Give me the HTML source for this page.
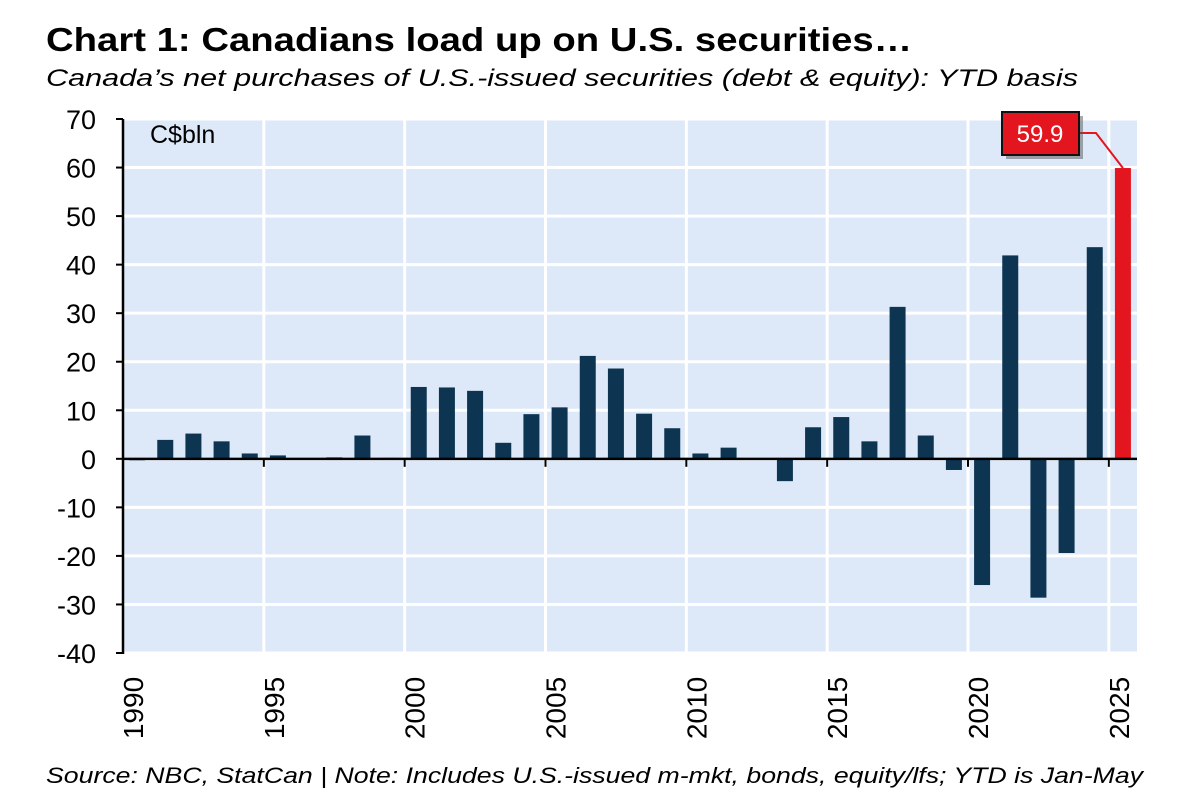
<!DOCTYPE html>
<html><head><meta charset="utf-8"><style>
body{margin:0;background:#fff;width:1200px;height:796px;overflow:hidden;font-family:"Liberation Sans",Arial,sans-serif}
svg{display:block}
</style></head><body>
<svg id="c" width="1200" height="796" xmlns="http://www.w3.org/2000/svg">
<text x="46" y="51" font-size="33" font-weight="bold" fill="#000" textLength="866" lengthAdjust="spacingAndGlyphs">Chart 1: Canadians load up on U.S. securities…</text>
<text x="46" y="86" font-size="24" font-style="italic" fill="#000" textLength="1032" lengthAdjust="spacingAndGlyphs">Canada’s net purchases of U.S.-issued securities (debt &amp; equity): YTD basis</text>
<text x="46" y="783" font-size="22" font-style="italic" fill="#000" textLength="1097" lengthAdjust="spacingAndGlyphs">Source: NBC, StatCan | Note: Includes U.S.-issued m-mkt, bonds, equity/lfs; YTD is Jan-May</text>
</svg>
<script>
const years=[1990,1991,1992,1993,1994,1995,1996,1997,1998,1999,2000,2001,2002,2003,2004,2005,2006,2007,2008,2009,2010,2011,2012,2013,2014,2015,2016,2017,2018,2019,2020,2021,2022,2023,2024,2025];
const values=[-0.3,3.9,5.2,3.6,1.1,0.7,0,0.3,4.8,0.2,14.8,14.7,14.0,3.3,9.2,10.6,21.2,18.6,9.3,6.3,1.1,2.3,-0.2,-4.6,6.5,8.6,3.6,31.3,4.8,-2.3,-26,41.9,-28.6,-19.4,43.6,59.9];
const yTicks=[70,60,50,40,30,20,10,0,-10,-20,-30,-40];
const xTickYears=[1990,1995,2000,2005,2010,2015,2020,2025];
const NS="http://www.w3.org/2000/svg",svg=document.getElementById('c');
const L=123,R=1137,T=119,B=653,yMin=-40,yMax=70;
const step=(R-L)/years.length;
const y=v=>B-(v-yMin)/(yMax-yMin)*(B-T);
const xL=yr=>L+(yr-years[0])*step;
function mk(t,a){const e=document.createElementNS(NS,t);for(const k in a)e.setAttribute(k,a[k]);svg.appendChild(e);return e;}
const bg=mk('rect',{x:L,y:T,width:R-L,height:B-T,fill:'#dde8f8'});


yTicks.forEach(v=>{
 const g=mk('line',{x1:L,x2:R,y1:y(v),y2:y(v),stroke:'#fff','stroke-width':3});
 
 
 const tk=mk('line',{x1:L-7,x2:L,y1:y(v),y2:y(v),stroke:'#000','stroke-width':2});
 
 
 const t=mk('text',{x:L-27,y:y(v)+10,'font-size':27,'text-anchor':'end',fill:'#000'});
 t.textContent=v;
 
 
});
xTickYears.forEach(yr=>{
 const x=xL(yr);
 if(yr!==years[0]){const g=mk('line',{x1:x,x2:x,y1:T,y2:B,stroke:'#fff','stroke-width':3});
 
 }
 const t=mk('text',{transform:`translate(${x+20},${B+55}) rotate(-90)`,'font-size':28,'text-anchor':'middle',fill:'#000'});
 t.textContent=yr;
 
 
});
years.forEach((yr,i)=>{
 const v=values[i],x=xL(yr)+step/2-8;
 const r=mk('rect',{x:x,y:Math.min(y(v),y(0)),width:16,height:Math.abs(y(v)-y(0)),fill:i===years.length-1?'#e3161f':'#0d3552'});
 
 
});
const ax=mk('line',{x1:L,x2:L,y1:T,y2:B+1,stroke:'#000','stroke-width':2.5});


const zx=mk('line',{x1:L,x2:R,y1:y(0),y2:y(0),stroke:'#000','stroke-width':2.5});


xTickYears.forEach(yr=>{
 const tk=mk('line',{x1:xL(yr),x2:xL(yr),y1:y(0),y2:y(0)+8,stroke:'#000','stroke-width':2});
 
 
});
const unit=mk('text',{x:150,y:143,'font-size':25,fill:'#000'});
unit.textContent='C$bln';


const last=values[values.length-1],lx=xL(years[years.length-1])+step/2;
const cn=mk('polyline',{points:`1079,133 1096,133 ${lx},${y(last)}`,fill:'none',stroke:'#e3161f','stroke-width':2});


const sh=mk('rect',{x:1006,y:116,width:77,height:43,fill:'#555',opacity:0.5});


const bx=mk('rect',{x:1002,y:112,width:77,height:43,fill:'#e3161f',stroke:'#111','stroke-width':2});


const lt=mk('text',{x:1040,y:142,'font-size':24,'text-anchor':'middle',fill:'#fff'});
lt.textContent=last.toFixed(1);


</script>
</body></html>
